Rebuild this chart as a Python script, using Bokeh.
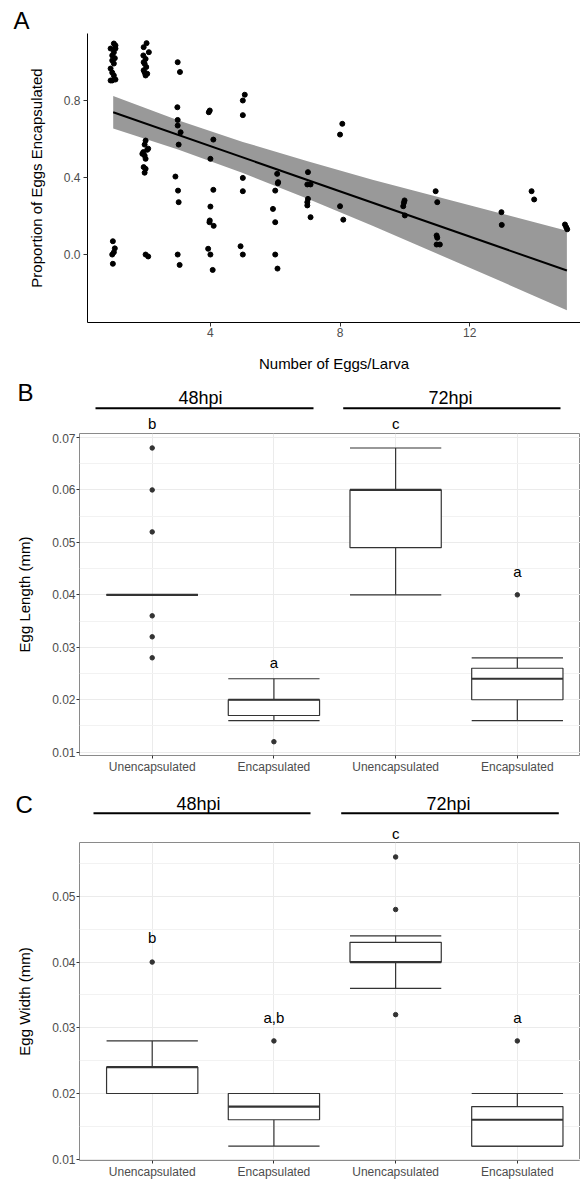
from bokeh.plotting import figure
from bokeh.layouts import column
from bokeh.models import Range1d, FixedTicker, PrintfTickFormatter, ColumnDataSource
from bokeh.core.properties import value
from bokeh.embed import file_html
from bokeh.resources import INLINE

FONT = "Liberation Sans"

# ---------------- Panel A data (jittered points as seen) ----------------
eggs_per_larva = [
    1.02, 1.07, 0.92, 1.07, 1.02, 0.97, 1.05, 0.97, 1.02, 0.92, 0.97, 1.02, 0.92, 1.07, 0.97,
    0.99, 1.05, 1.02, 0.97, 0.99,
    2.03, 1.94, 2.10, 1.93, 2.00, 1.94, 1.97, 2.02, 1.94, 2.05, 2.00, 1.97,
    2.00, 1.97, 2.08, 2.05, 1.93, 1.90, 1.97, 2.00, 1.94, 2.00, 1.97,
    2.00, 2.08,
    2.99, 3.06, 2.98, 2.99, 2.99, 3.08, 3.02, 2.92, 3.00, 3.02, 2.99, 3.05,
    3.98, 3.95, 4.09, 4.00, 4.09, 4.00, 3.98, 3.97, 4.10, 3.93, 4.00, 4.07,
    5.06, 5.00, 5.00, 5.00, 5.00, 4.93, 5.00,
    6.06, 6.09, 6.08, 6.00, 5.93, 6.00, 6.00, 6.07,
    7.01, 6.99, 7.09, 7.01, 6.99, 6.99, 7.09,
    8.07, 8.00, 8.00, 8.10,
    9.99, 9.97, 9.95, 10.00,
    10.95, 11.00, 10.98, 11.00, 10.98, 11.08,
    12.98, 12.99,
    13.91, 13.99,
    14.94, 14.98, 15.01,
]
prop_encapsulated = [
    1.096, 1.086, 1.070, 1.070, 1.050, 1.034, 1.020, 1.008, 0.992, 0.966, 0.945, 0.930, 0.904, 0.909, 0.904,
    0.069, 0.032, 0.012, 0.000, -0.048,
    1.098, 1.077, 1.051, 1.034, 1.016, 0.999, 0.991, 0.974, 0.957, 0.939, 0.930, 0.945,
    0.592, 0.571, 0.550, 0.544, 0.532, 0.523, 0.514, 0.497, 0.454, 0.445, 0.425,
    0.000, -0.010,
    0.999, 0.948, 0.765, 0.699, 0.670, 0.635, 0.571, 0.405, 0.332, 0.272, 0.000, -0.054,
    0.748, 0.739, 0.597, 0.497, 0.336, 0.249, 0.177, 0.168, 0.149, 0.030, 0.000, -0.080,
    0.830, 0.800, 0.724, 0.398, 0.329, 0.043, 0.000,
    0.419, 0.376, 0.370, 0.332, 0.237, 0.168, 0.000, -0.073,
    0.428, 0.364, 0.364, 0.289, 0.272, 0.255, 0.194,
    0.679, 0.623, 0.251, 0.181,
    0.281, 0.269, 0.251, 0.203,
    0.329, 0.272, 0.099, 0.087, 0.052, 0.052,
    0.220, 0.154,
    0.329, 0.286,
    0.156, 0.142, 0.131,
]
fit_x = [1, 15]
fit_y = [0.739, -0.083]
band_x = [1, 3, 5, 7, 9, 11, 13, 15]
band_hi = [0.824, 0.698, 0.585, 0.484, 0.389, 0.300, 0.212, 0.124]
band_lo = [0.654, 0.546, 0.423, 0.290, 0.149, 0.004, -0.142, -0.290]

# ---------------- Panels B & C data ----------------
categories = ["Unencapsulated", "Encapsulated", "Unencapsulated", "Encapsulated"]
groups = ["48hpi", "48hpi", "72hpi", "72hpi"]

len_lo = [0.040, 0.016, 0.040, 0.016]
len_q1 = [0.040, 0.017, 0.049, 0.020]
len_med = [0.040, 0.020, 0.060, 0.024]
len_q3 = [0.040, 0.020, 0.060, 0.026]
len_hi = [0.040, 0.024, 0.068, 0.028]
len_out = [[0.068, 0.060, 0.052, 0.036, 0.032, 0.028], [0.012], [], [0.040]]
len_letters = ["b", "a", "c", "a"]
len_letter_y = [0.0726, 0.0271, 0.0726, 0.0445]

wid_lo = [0.020, 0.012, 0.036, 0.012]
wid_q1 = [0.020, 0.016, 0.040, 0.012]
wid_med = [0.024, 0.018, 0.040, 0.016]
wid_q3 = [0.024, 0.020, 0.043, 0.018]
wid_hi = [0.028, 0.020, 0.044, 0.020]
wid_out = [[0.040], [0.028], [0.056, 0.048, 0.032], [0.028]]
wid_letters = ["b", "a,b", "c", "a"]
wid_letter_y = [0.04375, 0.0315, 0.0592, 0.0315]

W = 580


def header_fig(H):
    h = figure(width=W, height=H, output_backend="svg", toolbar_location=None,
               x_range=Range1d(0, W), y_range=Range1d(H, 0),
               x_axis_type=None, y_axis_type=None, min_border=0, frame_align=False)
    h.outline_line_color = None
    return h


def htext(h, xs, ys, texts, size, align="left", baseline="middle"):
    h.text(x=xs, y=ys, text=texts, text_font=value(FONT), text_font_size=value(size),
           text_align=align, text_baseline=baseline, text_color="black")


# ---------------- Panel A ----------------
hA = header_fig(33)
htext(hA, [13], [19.5], ["A"], "24px")

A_left, A_bottom = 87, 54
H1 = 289 + A_bottom
p1 = figure(width=W, height=H1, output_backend="svg", toolbar_location=None,
            x_range=Range1d(0.207, 15.42), y_range=Range1d(-0.353, 1.148),
            min_border_left=A_left, min_border_right=0, min_border_top=0,
            min_border_bottom=A_bottom, frame_align=False)
p1.outline_line_color = None
p1.xgrid.visible = False
p1.ygrid.visible = False
p1.varea(x=band_x, y1=band_lo, y2=band_hi, fill_color="#999999", fill_alpha=1)
p1.line(fit_x, fit_y, line_color="black", line_width=2)
p1.scatter(eggs_per_larva, prop_encapsulated, size=5, color="black")

p1.xaxis.ticker = FixedTicker(ticks=[4, 8, 12])
p1.yaxis.ticker = FixedTicker(ticks=[0.0, 0.4, 0.8])
p1.yaxis.formatter = PrintfTickFormatter(format="%.1f")
p1.xaxis.axis_label = "Number of Eggs/Larva"
p1.yaxis.axis_label = "Proportion of Eggs Encapsulated"
for ax in (p1.xaxis[0], p1.yaxis[0]):
    ax.axis_line_color = "black"
    ax.axis_line_width = 1
    ax.major_tick_line_color = "#333333"
    ax.major_tick_out = 4
    ax.major_tick_in = 0
    ax.minor_tick_out = 0
    ax.minor_tick_in = 0
    ax.major_label_text_font = FONT
    ax.major_label_text_font_size = "12px"
    ax.major_label_text_color = "#4d4d4d"
    ax.axis_label_text_font = FONT
    ax.axis_label_text_font_size = "15px"
    ax.axis_label_text_font_style = "normal"
    ax.axis_label_text_color = "black"
p1.xaxis.major_label_standoff = 1
p1.yaxis.major_label_standoff = 3
p1.xaxis.axis_label_standoff = 15
p1.yaxis.axis_label_standoff = 16


# ---------------- Panels B and C (boxplots) ----------------
def box_panel(H, hdr_h, left, bottom, xr, yr, ticks, minor, ylabel,
              lo, q1, med, q3, hi, outs, letters, letter_y, letter_name, letter_pos, hdrs):
    p = figure(width=W, height=H, output_backend="svg", toolbar_location=None,
               x_range=Range1d(*xr), y_range=Range1d(*yr),
               min_border_left=left, min_border_right=0, min_border_top=0,
               min_border_bottom=bottom, frame_align=False)
    p.outline_line_color = "#8a8a8a"
    p.outline_line_width = 1
    xs = [i + 1 for i in range(len(categories))]
    hw = 0.375
    src = ColumnDataSource(dict(x=xs, left=[x - hw for x in xs], right=[x + hw for x in xs],
                                lo=lo, q1=q1, med=med, q3=q3, hi=hi))
    box_col = "#333333"
    p.segment(x0="x", y0="q3", x1="x", y1="hi", source=src, line_color=box_col, line_width=1.2)
    p.segment(x0="x", y0="lo", x1="x", y1="q1", source=src, line_color=box_col, line_width=1.2)
    p.segment(x0="left", y0="hi", x1="right", y1="hi", source=src, line_color=box_col, line_width=1.2)
    p.segment(x0="left", y0="lo", x1="right", y1="lo", source=src, line_color=box_col, line_width=1.2)
    p.quad(left="left", right="right", bottom="q1", top="q3", source=src,
           fill_color="white", line_color=box_col, line_width=1.2)
    p.segment(x0="left", y0="med", x1="right", y1="med", source=src, line_color=box_col, line_width=2.2)
    ox, oy = [], []
    for x, vals in zip(xs, outs):
        for v in vals:
            ox.append(x)
            oy.append(v)
    p.scatter(ox, oy, size=4.5, color="#333333")

    p.xaxis.ticker = FixedTicker(ticks=xs)
    p.xaxis.major_label_overrides = {x: c for x, c in zip(xs, categories)}
    p.yaxis.ticker = FixedTicker(ticks=ticks, minor_ticks=minor)
    p.yaxis.formatter = PrintfTickFormatter(format="%.2f")
    p.xgrid.ticker = FixedTicker(ticks=xs)
    p.grid.grid_line_color = "#ebebeb"
    p.ygrid.minor_grid_line_color = "#f2f2f2"
    p.yaxis.axis_label = ylabel
    for ax in (p.xaxis[0], p.yaxis[0]):
        ax.axis_line_color = None
        ax.major_tick_line_color = "#333333"
        ax.major_tick_out = 3
        ax.major_tick_in = 0
        ax.minor_tick_out = 0
        ax.minor_tick_in = 0
        ax.major_label_text_font = FONT
        ax.major_label_text_font_size = "12px"
        ax.major_label_text_color = "#4d4d4d"
        ax.axis_label_text_font = FONT
        ax.axis_label_text_font_size = "15px"
        ax.axis_label_text_font_style = "normal"
        ax.axis_label_text_color = "black"
    p.xaxis.major_label_standoff = 1
    p.yaxis.major_label_standoff = 1
    p.yaxis.axis_label_standoff = 16

    # header strip above the panel (letters, group labels and lines)
    h = header_fig(hdr_h)
    fw = W - left
    fh = H - bottom
    to_px = lambda x: left + (x - xr[0]) * fw / (xr[1] - xr[0])
    in_x, in_y, in_t = [], [], []
    out_x, out_y, out_t = [], [], []
    for x, t, y in zip(xs, letters, letter_y):
        if y > yr[1]:
            out_x.append(to_px(x))
            out_y.append(min(hdr_h - (y - yr[1]) * fh / (yr[1] - yr[0]), hdr_h - 9))
            out_t.append(t)
        else:
            in_x.append(x)
            in_y.append(y)
            in_t.append(t)
    p.text(x=in_x, y=in_y, text=in_t, text_font=value(FONT), text_font_size=value("15px"),
           text_align="center", text_baseline="middle", text_color="black")
    htext(h, out_x, out_y, out_t, "15px", align="center")
    htext(h, [letter_pos[0]], [letter_pos[1]], [letter_name], "24px")
    names = [g for i, g in enumerate(groups) if g not in groups[:i]]
    htext(h, [d[0] for d in hdrs], [d[1] for d in hdrs], names, "18px", align="center")
    h.segment(x0=[d[2] for d in hdrs], y0=[d[4] for d in hdrs],
              x1=[d[3] for d in hdrs], y1=[d[4] for d in hdrs],
              line_color="black", line_width=2)
    return h, p


hB, p2 = box_panel(348, 57, 79, 26, (0.4026, 4.519), (0.00937, 0.07076),
                   [0.01, 0.02, 0.03, 0.04, 0.05, 0.06, 0.07],
                   [0.015, 0.025, 0.035, 0.045, 0.055, 0.065],
                   "Egg Length (mm)", len_lo, len_q1, len_med, len_q3, len_hi, len_out,
                   len_letters, len_letter_y, "B", (17, 16),
                   [(200, 21.5, 95, 313, 31.7), (450, 21.5, 342.7, 560, 31.7)])

hC, p3 = box_panel(339, 61, 79, 18, (0.4026, 4.519), (0.0098, 0.0582),
                   [0.01, 0.02, 0.03, 0.04, 0.05],
                   [0.015, 0.025, 0.035, 0.045, 0.055],
                   "Egg Width (mm)", wid_lo, wid_q1, wid_med, wid_q3, wid_hi, wid_out,
                   wid_letters, wid_letter_y, "C", (15, 23),
                   [(198, 22.5, 93, 310, 31.7), (448, 22.5, 340.7, 558.3, 31.7)])

layout = column(hA, p1, hB, p2, hC, p3, spacing=0)
open("out.html", "w").write(file_html(layout, INLINE))
